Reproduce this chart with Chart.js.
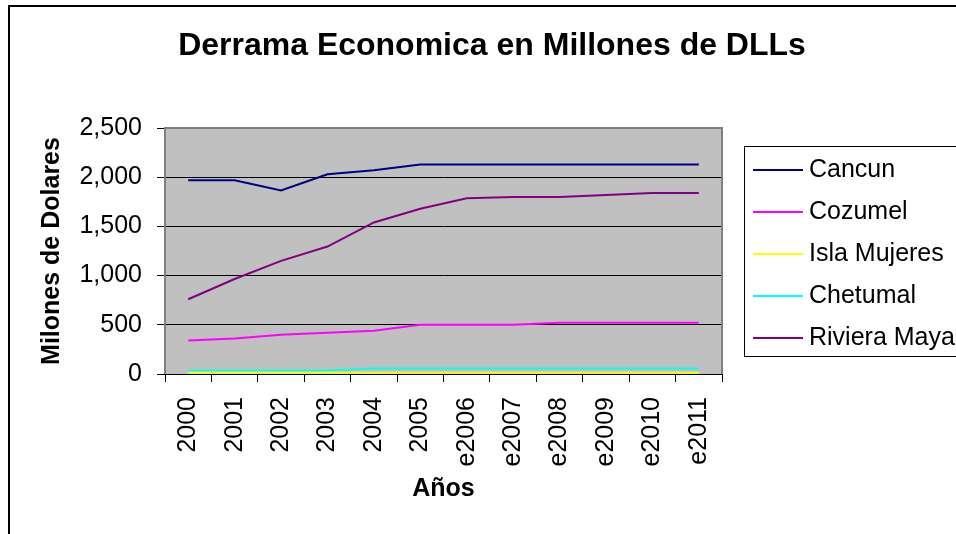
<!DOCTYPE html>
<html>
<head>
<meta charset="utf-8">
<script src="https://cdn.jsdelivr.net/npm/chart.js@4.4.0/dist/chart.umd.min.js"></script>
<style>
  body { margin: 0; background: #fff; }
  canvas { display: block; }
</style>
</head>
<body>
<canvas id="chart" width="956" height="534"></canvas>
<script>
//Categories on the x axis
const years = ["2000", "2001", "2002", "2003", "2004", "2005",
  "e2006", "e2007", "e2008", "e2009", "e2010", "e2011"];
//Values (millones de dolares)
const cancun = [1970, 1970, 1865, 2030, 2070, 2130, 2130, 2130, 2130, 2130, 2130, 2130];
const cozumel = [340, 360, 400, 420, 440, 500, 500, 500, 520, 520, 520, 520];
const islaMujeres = [12, 12, 12, 12, 12, 12, 12, 12, 12, 12, 12, 12];
const chetumal = [35, 35, 35, 35, 57, 57, 57, 57, 57, 57, 57, 57];
const rivieraMaya = [760, 965, 1150, 1295, 1540, 1680, 1785, 1800, 1800, 1820, 1840, 1840];
//Y axis range
const yMin = 0;
const yMax = 2500;
const yStep = 500;

const FONT = "'Liberation Sans', Arial, sans-serif";
Chart.defaults.color = "#000";
Chart.defaults.font.family = FONT;

//Gray plot area with its gray frame
const plotArea = {
  id: "plotArea",
  beforeDraw(chart) {
    const { ctx, chartArea: a } = chart;
    ctx.save();
    ctx.fillStyle = "#fff";
    ctx.fillRect(0, 0, chart.width, chart.height);
    //outer frame
    ctx.strokeStyle = "#000";
    ctx.lineWidth = 2;
    ctx.strokeRect(9, 6, 1000, 600);
    ctx.fillStyle = "#c0c0c0";
    ctx.fillRect(a.left, a.top, a.right - a.left, a.bottom - a.top);
    ctx.restore();
  },
  beforeDatasetsDraw(chart) {
    const { ctx, chartArea: a } = chart;
    ctx.save();
    ctx.strokeStyle = "#808080";
    ctx.lineWidth = 2;
    ctx.beginPath();
    ctx.moveTo(a.left, a.bottom);
    ctx.lineTo(a.left, a.top);
    ctx.lineTo(a.right, a.top);
    ctx.lineTo(a.right, a.bottom);
    ctx.stroke();
    ctx.restore();
  },
};

//Legend box on the right, built from the datasets
const boxLegend = {
  id: "boxLegend",
  afterDraw(chart) {
    const { ctx } = chart;
    ctx.save();
    ctx.strokeStyle = "#000";
    ctx.lineWidth = 1;
    ctx.strokeRect(744.5, 146.5, 300, 210);
    ctx.font = "25px " + FONT;
    ctx.textBaseline = "middle";
    ctx.textAlign = "left";
    chart.data.datasets.forEach((ds, k) => {
      const y = 170 + k * 42;
      ctx.strokeStyle = ds.borderColor;
      ctx.lineWidth = 2;
      ctx.beginPath();
      ctx.moveTo(753, y);
      ctx.lineTo(803, y);
      ctx.stroke();
      ctx.fillStyle = "#000";
      ctx.fillText(ds.label, 809, y);
    });
    ctx.restore();
  },
};

const series = (label, data, color) => ({
  label: label,
  data: data,
  borderColor: color,
  backgroundColor: color,
  borderWidth: 2,
  pointRadius: 0,
  tension: 0,
  fill: false,
});

new Chart(document.getElementById("chart"), {
  type: "line",
  plugins: [plotArea, boxLegend],
  data: {
    labels: years,
    datasets: [
      series("Cancun", cancun, "#000080"),
      series("Cozumel", cozumel, "#ff00ff"),
      series("Isla Mujeres", islaMujeres, "#ffff00"),
      series("Chetumal", chetumal, "#00ffff"),
      series("Riviera Maya", rivieraMaya, "#800080"),
    ],
  },
  options: {
    responsive: false,
    animation: false,
    locale: "en-US",
    devicePixelRatio: 1,
    layout: { padding: { top: 0, left: 28, right: 0, bottom: 0 } },
    plugins: {
      legend: { display: false },
      tooltip: { enabled: false },
      title: {
        display: true,
        text: "Derrama Economica en Millones de DLLs",
        color: "#000",
        font: { size: 32, weight: "bold", family: FONT },
        padding: { top: 27, bottom: 62.6 },
      },
    },
    scales: {
      x: {
        offset: true,
        afterFit: (s) => { s.height = 160; },
        grid: {
          offset: true,
          drawOnChartArea: false,
          drawTicks: true,
          tickLength: 8,
          color: "#000",
        },
        border: { display: true, color: "#000", width: 1 },
        ticks: {
          minRotation: 90,
          maxRotation: 90,
          autoSkip: false,
          padding: 15,
          font: { size: 25, family: FONT },
        },
        title: {
          display: true,
          text: "Años",
          font: { size: 25, weight: "bold", family: FONT },
          padding: { top: 0, bottom: 30 },
        },
      },
      y: {
        min: yMin,
        max: yMax,
        afterFit: (s) => { s.width = 137; },
        grid: {
          color: "#000",
          lineWidth: 1,
          drawTicks: true,
          tickLength: 8,
        },
        border: { display: false },
        ticks: {
          stepSize: yStep,
          padding: 15,
          font: { size: 25, family: FONT },
        },
        title: {
          display: true,
          text: "Milones de Dolares",
          font: { size: 25, weight: "bold", family: FONT },
          padding: { top: 9, bottom: 0 },
        },
      },
      //empty space on the right that holds the legend box
      side: {
        type: "linear",
        position: "right",
        afterFit: (s) => { s.width = 234; },
        grid: { display: false, drawOnChartArea: false },
        border: { display: false },
        ticks: { display: false },
      },
    },
  },
});
</script>
</body>
</html>
